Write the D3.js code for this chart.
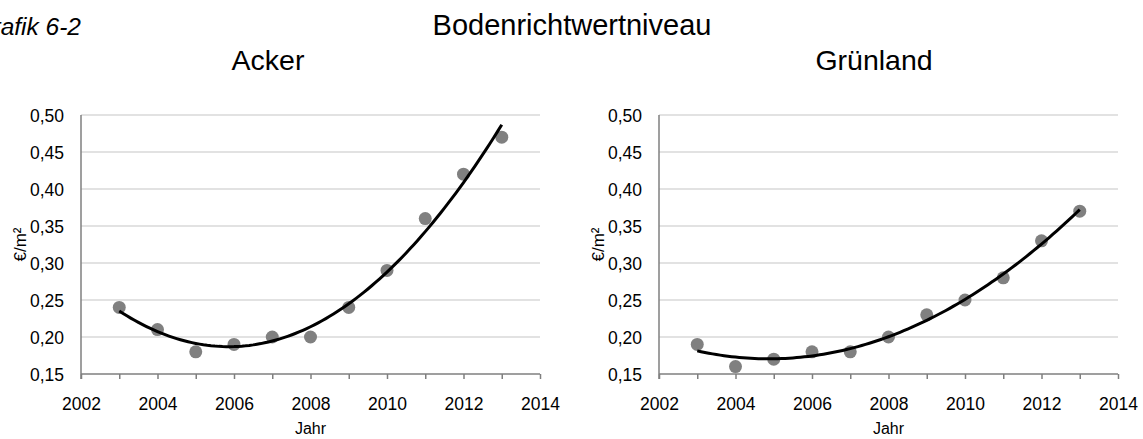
<!DOCTYPE html>
<html>
<head>
<meta charset="utf-8">
<script src="https://cdn.jsdelivr.net/npm/d3@7"></script>
<style>
  body { margin: 0; background: #fff; }
  svg { display: block; font-family: "Liberation Sans", Arial, sans-serif; }
</style>
</head>
<body>
<div id="js-canvas"></div>
<script>
"use strict";

// Years shown on both panels.
const years = [2003, 2004, 2005, 2006, 2007, 2008, 2009, 2010, 2011, 2012, 2013];

// Bodenrichtwert in Euro per m².
const ackerValues = [0.24, 0.21, 0.18, 0.19, 0.20, 0.20, 0.24, 0.29, 0.36, 0.42, 0.47];
const gruenlandValues = [0.19, 0.16, 0.17, 0.18, 0.18, 0.20, 0.23, 0.25, 0.28, 0.33, 0.37];

const panelTitles = ["Acker", "Grünland"];
const xDomain = [2002, 2014];
const yDomain = [0.15, 0.50];
const yTicks = [0.15, 0.20, 0.25, 0.30, 0.35, 0.40, 0.45, 0.50];
const xLabelTicks = [2002, 2004, 2006, 2008, 2010, 2012, 2014];

const width = 1143;
const height = 439;
const plotTop = 115;
const plotBottom = 374;
const plotWidth = 459;

const panels = [
  { title: panelTitles[0], values: ackerValues, left: 81, titleX: 268, yLabelX: 26 },
  { title: panelTitles[1], values: gruenlandValues, left: 659, titleX: 874, yLabelX: 604 }
];

const fmt = function (v) { return d3.format(".2f")(v).replace(".", ","); };

function createCanvas() {
  return d3.select("#js-canvas")
    .append("svg")
      .attr("width", width)
      .attr("height", height);
}

// Least squares fit of order 2, like the trend line in the spreadsheet.
function quadFit(xs, ys) {
  const x0 = d3.mean(xs);
  const u = xs.map(function (x) { return x - x0; });
  let s = [0, 0, 0, 0, 0], t = [0, 0, 0];
  u.forEach(function (v, i) {
    for (let k = 0; k < 5; k++) s[k] += Math.pow(v, k);
    for (let k = 0; k < 3; k++) t[k] += Math.pow(v, k) * ys[i];
  });
  // solve 3x3 normal equations
  const m = [[s[0], s[1], s[2], t[0]], [s[1], s[2], s[3], t[1]], [s[2], s[3], s[4], t[2]]];
  for (let i = 0; i < 3; i++) {
    for (let j = i + 1; j < 3; j++) {
      const f = m[j][i] / m[i][i];
      for (let k = i; k < 4; k++) m[j][k] -= f * m[i][k];
    }
  }
  const c = [0, 0, 0];
  for (let i = 2; i >= 0; i--) {
    let r = m[i][3];
    for (let k = i + 1; k < 3; k++) r -= m[i][k] * c[k];
    c[i] = r / m[i][i];
  }
  return function (x) { const v = x - x0; return c[0] + c[1] * v + c[2] * v * v; };
}

function drawPanel(svg, p) {
  const x = d3.scaleLinear().domain(xDomain).range([p.left, p.left + plotWidth]);
  const y = d3.scaleLinear().domain(yDomain).range([plotBottom, plotTop]);
  const g = svg.append("g");

  // grid lines
  g.append("g")
    .selectAll("line")
    .data(yTicks.slice(1))
    .enter()
    .append("line")
      .attr("x1", x(xDomain[0]))
      .attr("x2", x(xDomain[1]))
      .attr("y1", function (d) { return y(d); })
      .attr("y2", function (d) { return y(d); })
      .attr("stroke", "#d9d9d9")
      .attr("stroke-width", 1.5);

  // y axis
  const yAxis = g.append("g")
    .attr("transform", "translate(" + p.left + ",0)")
    .call(d3.axisLeft(y).tickValues(yTicks).tickSize(0).tickPadding(17).tickFormat(fmt))
    .attr("font-size", 17.5)
    .attr("font-family", "Liberation Sans, Arial, sans-serif");
  yAxis.select(".domain").remove();
  yAxis.selectAll("text").attr("fill", "#000").attr("dy", "0.36em");
  g.append("line")
    .attr("x1", p.left).attr("x2", p.left)
    .attr("y1", plotTop).attr("y2", plotBottom + 5)
    .attr("stroke", "#7f7f7f").attr("stroke-width", 1.5);

  // x axis, a tick each year and a label every second year
  const xAxis = g.append("g")
    .attr("transform", "translate(0," + plotBottom + ")")
    .call(d3.axisBottom(x).ticks(12).tickSize(5).tickPadding(19)
      .tickFormat(function (d) { return xLabelTicks.indexOf(d) >= 0 ? d : ""; }))
    .attr("font-size", 17.5)
    .attr("font-family", "Liberation Sans, Arial, sans-serif");
  xAxis.select(".domain").attr("stroke", "#7f7f7f").attr("stroke-width", 1.5)
    .attr("d", "M" + x(xDomain[0]) + ",0H" + x(xDomain[1]));
  xAxis.selectAll(".tick line").attr("stroke", "#7f7f7f").attr("stroke-width", 1.5);
  xAxis.selectAll("text").attr("fill", "#000");

  // axis titles
  g.append("text")
    .attr("x", p.left + plotWidth / 2)
    .attr("y", 434)
    .attr("text-anchor", "middle")
    .attr("font-size", 16)
    .text("Jahr");
  g.append("text")
    .attr("transform", "translate(" + p.yLabelX + "," + ((plotTop + plotBottom) / 2) + ") rotate(-90)")
    .attr("text-anchor", "middle")
    .attr("font-size", 17)
    .text("€/m²");

  // panel title
  g.append("text")
    .attr("x", p.titleX)
    .attr("y", 70)
    .attr("text-anchor", "middle")
    .attr("font-size", 28.5)
    .text(p.title);

  // points
  g.append("g")
    .selectAll("circle")
    .data(years)
    .enter()
    .append("circle")
      .attr("cx", function (d) { return x(d); })
      .attr("cy", function (d, i) { return y(p.values[i]); })
      .attr("r", 6.5)
      .attr("fill", "#808080");

  // trend line
  const fit = quadFit(years, p.values);
  const xs = d3.range(years[0], years[years.length - 1] + 0.001, 0.1);
  g.append("path")
    .datum(xs)
    .attr("fill", "none")
    .attr("stroke", "#000")
    .attr("stroke-width", 3)
    .attr("d", d3.line()
      .x(function (d) { return x(d); })
      .y(function (d) { return y(fit(d)); }));
}

const svg = createCanvas();

svg.append("text")
  .attr("x", 572)
  .attr("y", 35)
  .attr("text-anchor", "middle")
  .attr("font-size", 29)
  .text("Bodenrichtwertniveau");

svg.append("text")
  .attr("x", 81)
  .attr("y", 35)
  .attr("text-anchor", "end")
  .attr("font-size", 24.5)
  .attr("font-style", "italic")
  .text("Grafik 6-2");

panels.forEach(function (p) { drawPanel(svg, p); });
</script>
</body>
</html>
